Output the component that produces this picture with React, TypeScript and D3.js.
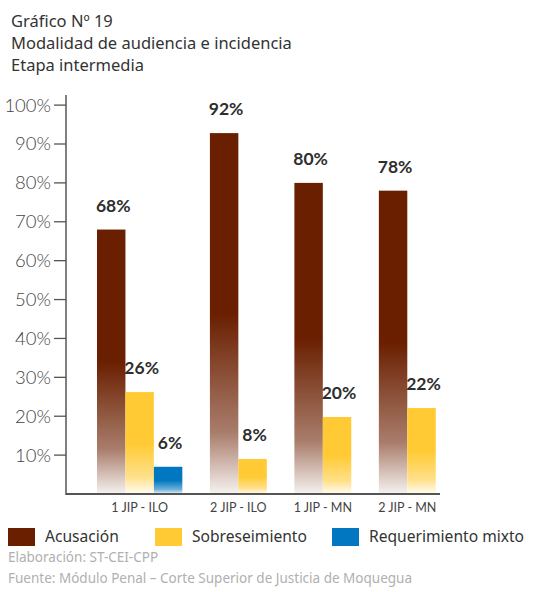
import React from "react";
import * as d3 from "d3";

const categories = ["1 JIP - ILO", "2 JIP - ILO", "1 JIP - MN", "2 JIP - MN"];
const seriesNames = ["Acusación", "Sobreseimiento", "Requerimiento mixto"];
const acusacion: (number | null)[] = [68, 92.8, 80, 78];
const sobreseimiento: (number | null)[] = [26.2, 9, 19.8, 22.1];
const requerimientoMixto: (number | null)[] = [7, null, null, null];
const acusacionLabels = ["68%", "92%", "80%", "78%"];
const sobreseimientoLabels = ["26%", "8%", "20%", "22%"];
const requerimientoLabels = ["6%", "", "", ""];
const yTicks = [10, 20, 30, 40, 50, 60, 70, 80, 90, 100];
const titleLines = ["Gráfico Nº 19", "Modalidad de audiencia e incidencia", "Etapa intermedia"];
const footerLines = ["Elaboración: ST-CEI-CPP", "Fuente: Módulo Penal – Corte Superior de Justicia de Moquegua"];

const W = 543;
const H = 592;
const colors = ["#6a1f00", "#ffca33", "#0077c0"];
const seriesValues = [acusacion, sobreseimiento, requerimientoMixto];
const seriesLabels = [acusacionLabels, sobreseimientoLabels, requerimientoLabels];

const axisLeft = 66;
const axisRight = 440;
const axisBottom = 494;
const axisTop = 95;

export default function App() {
  const y = d3.scaleLinear().domain([0, 102.6]).range([axisBottom, axisTop]);

  // layout in "bar units"
  const lead = 1.09;
  const gap = 0.97;
  const trail = 0.15;
  type Bar = { cat: number; s: number; start: number; value: number; label: string };
  const bars: Bar[] = [];
  const groupCenters: number[] = [];
  let u = lead;
  categories.forEach((_, ci) => {
    if (ci > 0) u += gap;
    const gStart = u;
    seriesValues.forEach((vals, si) => {
      const v = vals[ci];
      if (v !== null && v !== undefined) {
        bars.push({ cat: ci, s: si, start: u, value: v, label: seriesLabels[si][ci] });
        u += 1;
      }
    });
    groupCenters.push((gStart + u) / 2);
  });
  const totalUnits = u + trail;
  const x = d3.scaleLinear().domain([0, totalUnits]).range([axisLeft, axisRight]);
  const bw = x(1) - x(0);

  const mix = (c: string, t: number) => d3.interpolateRgb(c, "#ffffff")(t);

  const labelFont = "Lato, 'Open Sans', sans-serif";
  const textFont = "'Noto Sans', 'Open Sans', sans-serif";

  return (
    <svg
      width={W}
      height={H}
      viewBox={`0 0 ${W} ${H}`}
      style={{ position: "absolute", left: 0, top: 0, background: "#fff" }}
    >
      <defs>
        {colors.map((c, i) => (
          <linearGradient key={i} id={`g${i}`} x1="0" y1="0" x2="0" y2="1">
            <stop offset="0" stopColor={c} />
            <stop offset="0.5" stopColor={c} />
            <stop offset="0.83" stopColor={mix(c, 0.42)} />
            <stop offset="1" stopColor={mix(c, 0.94)} />
          </linearGradient>
        ))}
      </defs>
      <rect x={0} y={0} width={W} height={H} fill="#fff" />

      {titleLines.map((t, i) => (
        <text key={i} x={11} y={27 + i * 22} fontFamily={textFont} fontSize={16.5} fill="#333">
          {t}
        </text>
      ))}

      {/* bars */}
      {bars.map((b, i) => (
        <rect
          key={i}
          x={x(b.start)}
          y={y(b.value)}
          width={bw}
          height={y(0) - y(b.value)}
          fill={`url(#g${b.s})`}
        />
      ))}
      {bars.map((b, i) => (
        <text
          key={"l" + i}
          x={x(b.start) + bw / 2 + 2}
          y={y(b.value) - 18}
          textAnchor="middle"
          fontFamily={labelFont}
          fontWeight={700}
          fontSize={17.5}
          fill="#2e2e2e"
        >
          {b.label}
        </text>
      ))}

      {/* y axis */}
      <line x1={axisLeft} x2={axisLeft} y1={axisTop} y2={axisBottom + 1} stroke="#555" strokeWidth={1.5} />
      {yTicks.map((t) => (
        <g key={t}>
          <line x1={axisLeft - 12} x2={axisLeft} y1={y(t)} y2={y(t)} stroke="#555" strokeWidth={1.3} />
          <text
            x={axisLeft - 15}
            y={y(t)}
            dy="0.35em"
            textAnchor="end"
            fontFamily={labelFont}
            fontWeight={300}
            fontSize={18.5}
            fill="#444"
          >
            {t}%
          </text>
        </g>
      ))}

      {/* x axis */}
      <line x1={axisLeft} x2={axisRight} y1={axisBottom} y2={axisBottom} stroke="#555" strokeWidth={2} />
      {categories.map((c, i) => (
        <text
          key={c}
          x={x(groupCenters[i])}
          y={512}
          textAnchor="middle"
          fontFamily={labelFont}
          fontSize={12.5}
          fill="#444"
        >
          {c}
        </text>
      ))}

      {/* legend */}
      {seriesNames.map((n, i) => {
        const lx = [8, 155, 332][i];
        return (
          <g key={n}>
            <rect x={lx} y={528} width={27} height={18} fill={colors[i]} />
            <text x={lx + 37} y={542} fontFamily={textFont} fontSize={15.6} fill="#333">
              {n}
            </text>
          </g>
        );
      })}

      {footerLines.map((f, i) => (
        <text key={i} x={8} y={562 + i * 20.5} fontFamily={textFont} fontSize={13.5} fill="#b0b0b0">
          {f}
        </text>
      ))}
    </svg>
  );
}
